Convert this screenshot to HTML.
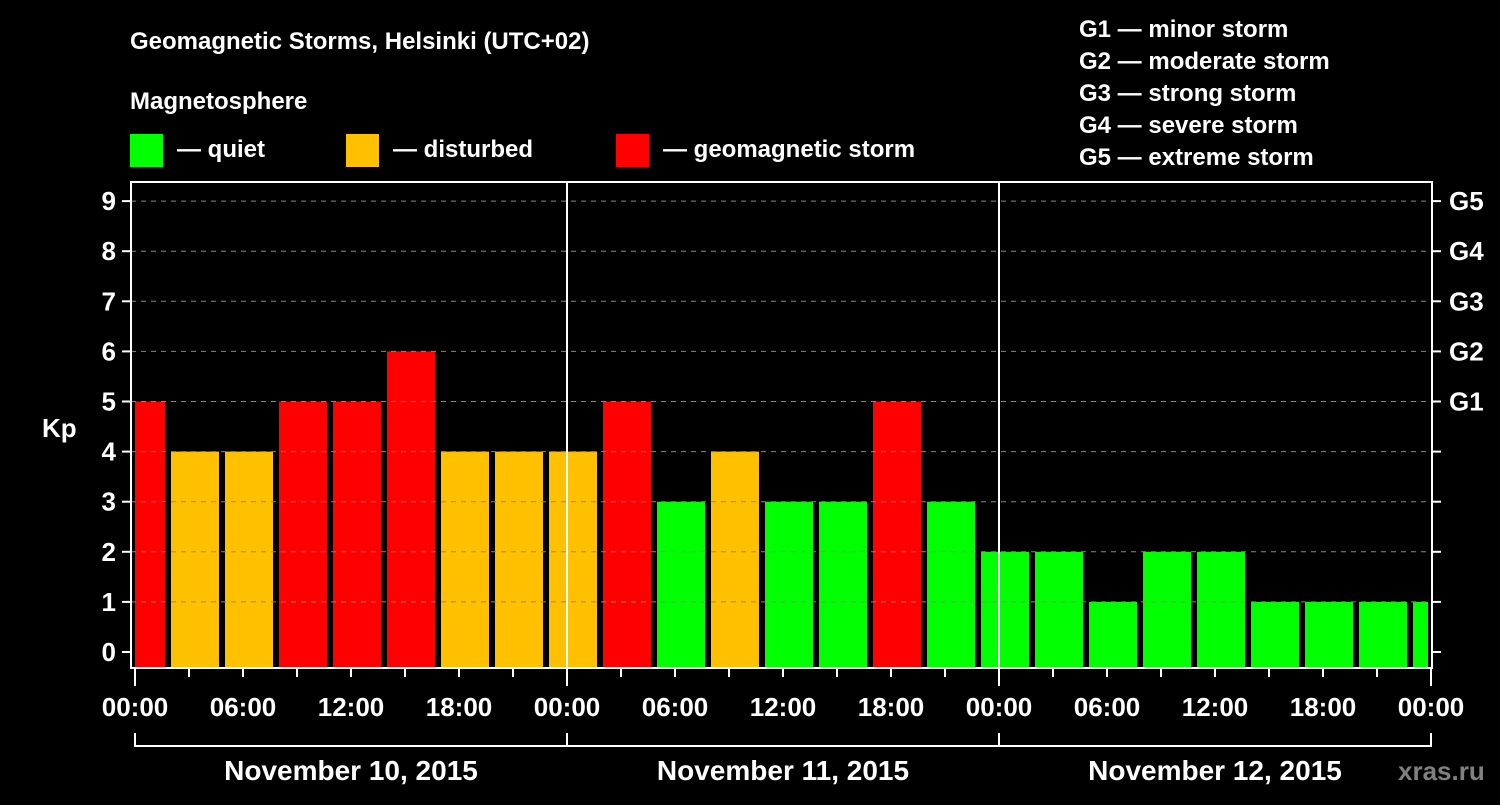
<!DOCTYPE html>
<html><head><meta charset="utf-8"><style>
body{margin:0;background:#000;width:1500px;height:800px;overflow:hidden}
svg text{font-family:"Liberation Sans",Arial,sans-serif;font-weight:bold;fill:#fff}
</style></head><body>
<svg id="c" width="1500" height="800">
<text x="130" y="49" font-size="24">Geomagnetic Storms, Helsinki (UTC+02)</text>
<text x="130" y="109" font-size="24">Magnetosphere</text>
<rect x="130" y="134" width="33" height="33" fill="#00ff00"/>
<text x="177" y="157" font-size="24">— quiet</text>
<rect x="346" y="134" width="33" height="33" fill="#ffc000"/>
<text x="393" y="157" font-size="24">— disturbed</text>
<rect x="616" y="134" width="33" height="33" fill="#ff0000"/>
<text x="663" y="157" font-size="24">— geomagnetic storm</text>
<g font-size="24">
<text x="1079" y="37">G1 — minor storm</text>
<text x="1079" y="69">G2 — moderate storm</text>
<text x="1079" y="101">G3 — strong storm</text>
<text x="1079" y="133">G4 — severe storm</text>
<text x="1079" y="165">G5 — extreme storm</text>
</g>
<text x="42" y="437" font-size="26">Kp</text>
<g id="bars"></g><g id="grid"></g><g id="axes"></g>
<text x="1398" y="780" font-size="26" fill="#808080" style="fill:#808080">xras.ru</text>
</svg>
<script>
const kpValues=[5,4,4,5,5,6,4,4,4,5,3,4,3,3,5,3,2,2,1,2,2,1,1,1,1];
const yTicks=[0,1,2,3,4,5,6,7,8,9];
const gLabels=["G1","G2","G3","G4","G5"];
const gLevels=[5,6,7,8,9];
const xTickLabels=["00:00","06:00","12:00","18:00","00:00","06:00","12:00","18:00","00:00","06:00","12:00","18:00","00:00"];
const dayLabels=["November 10, 2015","November 11, 2015","November 12, 2015"];
const NS="http://www.w3.org/2000/svg";
const L=131,R=1432,T=182,B=668,X0=135,X1=1431;
const hx=h=>X0+(X1-X0)*h/72;
const ky=v=>652-v*50.1;
function mk(t,a,p){const e=document.createElementNS(NS,t);for(const k in a)e.setAttribute(k,a[k]);p.appendChild(e);return e;}
const bars=document.getElementById('bars'),grid=document.getElementById('grid'),ax=document.getElementById('axes');
kpValues.forEach((v,i)=>{
  let x0=hx(i*3-1.5)+9,x1=hx(i*3+1.5)-9+6;
  x1=x0+48;x0=Math.max(x0,X0);x1=Math.min(x1,1428);
  const col=v>=5?'#ff0000':v>=4?'#ffc000':'#00ff00';
  const r=mk('rect',{x:x0,y:ky(v),width:x1-x0,height:667-ky(v),fill:col},bars);
  
  
});
yTicks.forEach(v=>{
  const y=ky(v);
  if(v>0){const g=mk('line',{x1:L,x2:R,y1:y,y2:y,stroke:'#888','stroke-dasharray':'5,5','stroke-width':1},grid);
  }
  mk('line',{x1:122,x2:L,y1:y,y2:y,stroke:'#fff','stroke-width':2},ax);
  mk('line',{x1:R,x2:1441,y1:y,y2:y,stroke:'#fff','stroke-width':2},ax);
  const t=mk('text',{x:116,y:y+9,'font-size':26,'text-anchor':'end'},ax);t.textContent=v;
  
});
gLabels.forEach((g,i)=>{
  const t=mk('text',{x:1449,y:ky(gLevels[i])+9,'font-size':26},ax);t.textContent=g;
  
});
mk('rect',{x:L,y:T,width:R-L,height:B-T,fill:'none',stroke:'#fff','stroke-width':2},ax);
[1,2].forEach(d=>mk('line',{x1:hx(d*24),x2:hx(d*24),y1:T,y2:B,stroke:'#fff','stroke-width':2},ax));
for(let h=0;h<=72;h+=3){const x=hx(h);mk('line',{x1:x,x2:x,y1:B,y2:h%24==0?686:677,stroke:'#fff','stroke-width':2},ax);}
xTickLabels.forEach((s,i)=>{const t=mk('text',{x:hx(i*6),y:716,'font-size':26,'text-anchor':'middle'},ax);t.textContent=s;
  });
mk('line',{x1:X0,x2:X1,y1:746,y2:746,stroke:'#fff','stroke-width':2},ax);
for(let d=0;d<=3;d++)mk('line',{x1:hx(d*24),x2:hx(d*24),y1:733,y2:747,stroke:'#fff','stroke-width':2},ax);
dayLabels.forEach((s,i)=>{const t=mk('text',{x:hx(i*24+12),y:780,'font-size':28,'text-anchor':'middle'},ax);t.textContent=s;
  });
</script>
</body></html>
